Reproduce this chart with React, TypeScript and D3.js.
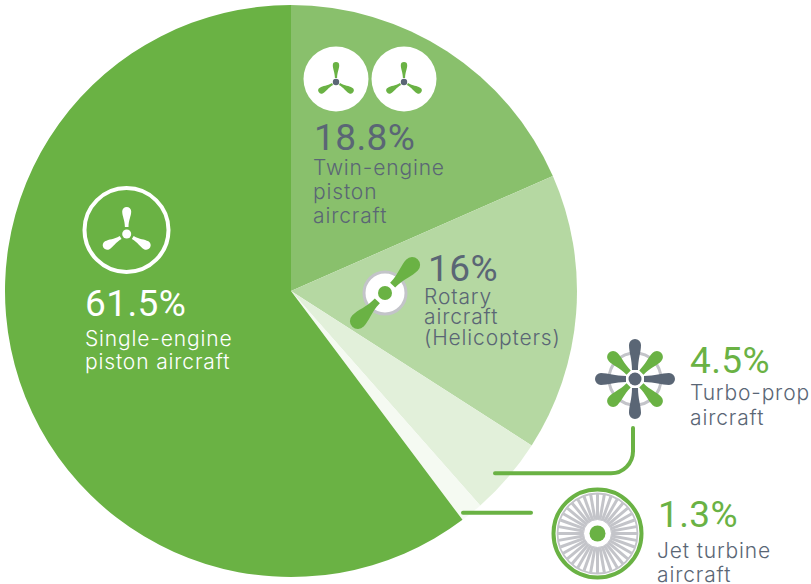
import React from "react";
import * as d3 from "d3";

const categories = ["Twin-engine piston aircraft", "Rotary aircraft (Helicopters)", "Turbo-prop aircraft", "Jet turbine aircraft", "Single-engine piston aircraft"];
const shares = [18.8, 16, 4.5, 1.3, 61.5];
const sliceColours = ["#89c06c", "#b5d8a2", "#e2f0da", "#f5faf2", "#6ab244"];
const shareLabels = ["18.8%", "16%", "4.5%", "1.3%", "61.5%"];

const GREEN = "#6ab244";
const SLATE = "#5a6675";
const GREY = "#c3c4c9";
const NUM_FONT = "Roboto, sans-serif";
const TXT_FONT = "Inter, 'Open Sans', sans-serif";

const WIDTH = 811;
const HEIGHT = 584;
const CX = 291;
const CY = 291;
const R = 286;

// Propeller blade pointing up, from r0 to r1 along the axis, widening toward a round tip.
function blade(r0: number, r1: number, w0: number, w1: number) {
  const tip = r1 - w1;
  const len = tip - r0;
  return `M${-w0},${-r0} C${-w0},${-(r0 + len * 0.45)} ${-w1},${-(tip - len * 0.3)} ${-w1},${-tip}
    A${w1},${w1} 0 0 1 ${w1},${-tip}
    C${w1},${-(tip - len * 0.3)} ${w0},${-(r0 + len * 0.45)} ${w0},${-r0} Z`;
}

function Prop({ x, y, bladeFill, hubFill, scale, hub }: { x: number; y: number; bladeFill: string; hubFill: string; scale: [number, number, number, number]; hub: number }) {
  const [a, b, c, d] = scale;
  return (
    <g transform={`translate(${x},${y})`}>
      {[0, 120, 240].map((deg) => (
        <path key={deg} d={blade(a, b, c, d)} fill={bladeFill} transform={`rotate(${deg})`} />
      ))}
      <circle r={hub} fill={hubFill} />
    </g>
  );
}

function Lines({ x, ys, lines, fill }: { x: number; ys: number[]; lines: string[]; fill: string }) {
  return (
    <>
      {lines.map((t, i) => (
        <text key={t} x={x} y={ys[i]} fontFamily={TXT_FONT} fontSize={21} fontWeight={300} fill={fill} letterSpacing={0.85}>
          {t}
        </text>
      ))}
    </>
  );
}

export default function App() {
  const pie = d3.pie<number>().sort(null).value((d) => d);
  const arc = d3.arc<d3.PieArcDatum<number>>().innerRadius(0).outerRadius(R);
  const arcs = pie(shares);
  const spokes = d3.range(36).map((i) => (i * 360) / 36);

  const bigNumber = (label: string, x: number, y: number, fill: string) => (
    <text x={x} y={y} fontFamily={NUM_FONT} fontSize={37} fontWeight={400} fill={fill} letterSpacing={0.4}>
      {label}
    </text>
  );

  return (
    <svg width={WIDTH} height={HEIGHT} style={{ position: "absolute", left: 0, top: 0 }}>
      <g transform={`translate(${CX},${CY})`}>
        {arcs.map((a, i) => (
          <path key={categories[i]} d={arc(a) as string} fill={sliceColours[i]} />
        ))}
      </g>

      {/* Leader lines from the two thin slices to their icons */}
      <path d="M495,473.3 H611 A22,22 0 0 0 633,451.3 V428" fill="none" stroke={GREEN} strokeWidth={4} strokeLinecap="round" />
      <path d="M463,512.7 H531" fill="none" stroke={GREEN} strokeWidth={4} strokeLinecap="round" />

      {/* Single-engine */}
      <circle cx={126.5} cy={230} r={42} fill="none" stroke="#fff" strokeWidth={4} />
      <Prop x={126.7} y={234} bladeFill="#fff" hubFill="#fff" scale={[7, 27, 1.8, 4.5]} hub={4.5} />
      {bigNumber(shareLabels[4], 85, 316, "#fff")}
      <Lines x={85} ys={[346, 369]} lines={["Single-engine", "piston aircraft"]} fill="#fff" />

      {/* Twin-engine */}
      {[336, 404].map((x) => (
        <g key={x}>
          <circle cx={x} cy={79} r={32.5} fill="#fff" />
          <Prop x={x} y={82} bladeFill={GREEN} hubFill={SLATE} scale={[4, 20, 1.1, 3.2]} hub={3.2} />
        </g>
      ))}
      {bigNumber(shareLabels[0], 314, 150, SLATE)}
      <Lines x={313} ys={[175, 199, 223]} lines={["Twin-engine", "piston", "aircraft"]} fill={SLATE} />

      {/* Rotary */}
      <g transform="translate(385,293)">
        <circle r={21} fill="#fff" stroke={GREY} strokeWidth={3} />
        {[44, 224].map((deg) => (
          <path key={deg} d={blade(11, 47, 3.5, 8)} fill={GREEN} transform={`rotate(${deg})`} />
        ))}
        <circle r={7} fill={GREEN} />
      </g>
      {bigNumber(shareLabels[1], 428, 281, SLATE)}
      <Lines x={424} ys={[304, 324, 345]} lines={["Rotary", "aircraft", "(Helicopters)"]} fill={SLATE} />

      {/* Turbo-prop */}
      <g transform="translate(635,379)">
        <circle r={26} fill="none" stroke={GREY} strokeWidth={3} />
        {[45, 135, 225, 315].map((deg) => (
          <path key={deg} d={blade(9, 37, 3, 6)} fill={GREEN} transform={`rotate(${deg})`} />
        ))}
        {[0, 90, 180, 270].map((deg) => (
          <path key={deg} d={blade(9, 40, 3, 6)} fill={SLATE} transform={`rotate(${deg})`} />
        ))}
        <circle r={6.5} fill={SLATE} />
      </g>
      {bigNumber(shareLabels[2], 690, 373, GREEN)}
      <Lines x={690} ys={[400, 425]} lines={["Turbo-prop", "aircraft"]} fill={SLATE} />

      {/* Jet turbine */}
      <g transform="translate(597.5,533.5)">
        <circle r={44} fill="#fff" stroke={GREEN} strokeWidth={4} />
        <circle r={40} fill="none" stroke={GREY} strokeWidth={1.8} />
        {spokes.map((deg) => (
          <line key={deg} y1={-13} y2={-39.5} stroke={GREY} strokeWidth={3} transform={`rotate(${deg})`} />
        ))}
        <circle r={14} fill="#fff" stroke={GREY} strokeWidth={1} />
        <circle r={8} fill={GREEN} />
      </g>
      {bigNumber(shareLabels[3], 658, 527, GREEN)}
      <Lines x={657} ys={[558, 582]} lines={["Jet turbine", "aircraft"]} fill={SLATE} />
    </svg>
  );
}
